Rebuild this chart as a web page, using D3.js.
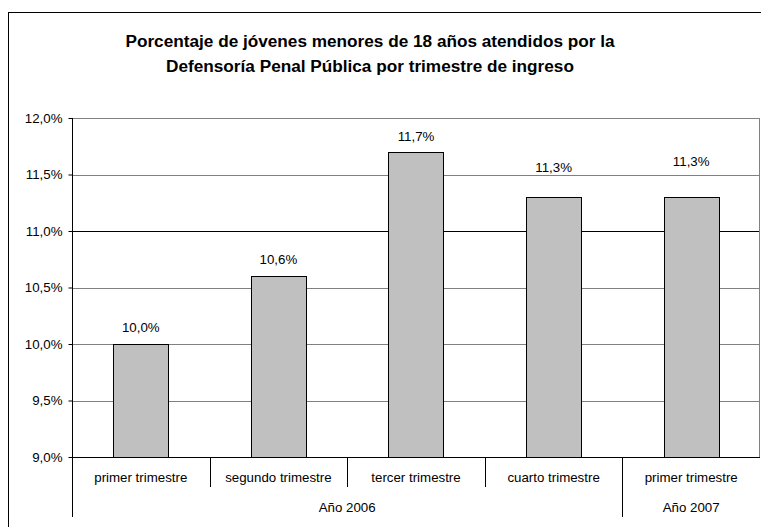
<!DOCTYPE html>
<html>
<head>
  <meta http-equiv="Content-Type" content="text/html;charset=utf-8">
  <title>Jóvenes atendidos por trimestre</title>
  <script src="https://d3js.org/d3.v7.min.js"></script>
  <style type="text/css">
    body { margin: 0; background: #fff; }
    svg { display: block; font-family: Arial, "Liberation Sans", sans-serif; }
    .bar { fill: #c0c0c0; stroke: #000; stroke-width: 1px; }
    .grid { stroke: #808080; stroke-width: 1px; }
    .label { font-size: 13.3px; fill: #000; }
    .title { font-size: 17.2px; font-weight: bold; fill: #000; }
  </style>
</head>
<body>
  <svg width="761" height="527"></svg>
  <script type='text/javascript'>
    const quarters = ['primer trimestre', 'segundo trimestre', 'tercer trimestre', 'cuarto trimestre', 'primer trimestre'];
    const years = ['Año 2006', 'Año 2006', 'Año 2006', 'Año 2006', 'Año 2007'];
    const values = [10.0, 10.6, 11.7, 11.3, 11.3];
    const yTicks = [9.0, 9.5, 10.0, 10.5, 11.0, 11.5, 12.0];
    const titleLines = ['Porcentaje de jóvenes menores de 18 años atendidos por la',
                        'Defensoría Penal Pública por trimestre de ingreso'];

    // value labels were placed by hand in the original, so their gaps differ
    const labelGap = [12, 12, 11, 25, 31];

    const svg = d3.select('svg');
    const plotLeft = 72, plotRight = 760, plotTop = 118, plotBottom = 457;
    const fmt = (v) => d3.format('.1f')(v).replace('.', ',') + '%';

    // outer chart frame (only left and top edges are inside the window)
    svg.append('rect')
        .attr('x', 8.5).attr('y', 12.5)
        .attr('width', 900).attr('height', 700)
        .attr('fill', 'none').attr('stroke', '#000');

    svg.selectAll('.title').data(titleLines)
        .enter()
        .append('text')
        .attr('class', 'title')
        .attr('x', 370)
        .attr('y', (d, i) => 47 + i * 25)
        .attr('text-anchor', 'middle')
        .text((d) => d);

    const idx = values.map((d, i) => i);
    const x = d3.scaleBand().domain(idx).range([plotLeft, plotRight]).paddingInner(0.6).paddingOuter(0.3);
    const cell = d3.scaleBand().domain(idx).range([plotLeft, plotRight]);
    const y = d3.scaleLinear().domain([9, 12]).range([plotBottom, plotTop]);

    // gridlines
    svg.selectAll('.grid').data(yTicks.filter((d) => d > 9))
        .enter()
        .append('line')
        .attr('class', 'grid')
        .attr('x1', plotLeft).attr('x2', plotRight)
        .attr('y1', (d) => Math.round(y(d)) + 0.5)
        .attr('y2', (d) => Math.round(y(d)) + 0.5)
        .style('stroke', (d) => d === 11 ? '#000' : '#808080');

    svg.append('line')
        .attr('class', 'grid')
        .attr('x1', plotRight - 0.5).attr('x2', plotRight - 0.5)
        .attr('y1', plotTop).attr('y2', plotBottom);

    // y axis
    const yAxis = svg.append('g')
        .attr('transform', `translate(${plotLeft + 0.5},0)`)
        .call(d3.axisLeft(y).tickValues(yTicks).tickSize(4).tickPadding(6).tickFormat(fmt));
    yAxis.select('.domain').remove();
    yAxis.selectAll('.tick line').attr('stroke', '#000');
    yAxis.selectAll('.tick text').attr('class', 'label').style('font-size', '13.3px').attr('fill', '#000');
    yAxis.append('line').attr('x1', 0).attr('x2', 0).attr('y1', plotTop).attr('y2', plotBottom).attr('stroke', '#000');

    // bars
    svg.selectAll('.bar').data(values)
        .enter()
        .append('rect')
        .attr('class', 'bar')
        .attr('x', (d, i) => Math.round(x(i)) + 0.5)
        .attr('y', (d) => Math.round(y(d)) + 0.5)
        .attr('width', Math.round(x.bandwidth()))
        .attr('height', (d) => Math.round(y(9)) - Math.round(y(d)));

    svg.selectAll('.value').data(values)
        .enter()
        .append('text')
        .attr('class', 'label')
        .attr('x', (d, i) => x(i) + x.bandwidth() / 2)
        .attr('y', (d, i) => y(d) - labelGap[i])
        .attr('text-anchor', 'middle')
        .text(fmt);

    // x axis line
    svg.append('line')
        .attr('x1', plotLeft).attr('x2', plotRight)
        .attr('y1', plotBottom + 0.5).attr('y2', plotBottom + 0.5)
        .attr('stroke', '#000');

    // category separators and labels
    const seps = idx.map((i) => ({
      x: cell(i),
      long: i === 0 || years[i] !== years[i - 1]
    }));
    svg.selectAll('.sep').data(seps)
        .enter()
        .append('line')
        .attr('x1', (d) => Math.round(d.x) + 0.5)
        .attr('x2', (d) => Math.round(d.x) + 0.5)
        .attr('y1', plotBottom)
        .attr('y2', (d) => d.long ? 517 : 487)
        .attr('stroke', '#000');

    svg.selectAll('.cat').data(quarters)
        .enter()
        .append('text')
        .attr('class', 'label')
        .attr('x', (d, i) => cell(i) + cell.bandwidth() / 2)
        .attr('y', 482)
        .attr('text-anchor', 'middle')
        .text((d) => d);

    const groups = d3.groups(idx, (i) => years[i]).map(([name, members]) => ({
      name,
      x0: cell(members[0]),
      x1: cell(members[members.length - 1]) + cell.bandwidth()
    }));
    svg.selectAll('.year').data(groups)
        .enter()
        .append('text')
        .attr('class', 'label')
        .attr('x', (d) => (d.x0 + d.x1) / 2)
        .attr('y', 512)
        .attr('text-anchor', 'middle')
        .text((d) => d.name);
  </script>
</body>
</html>
